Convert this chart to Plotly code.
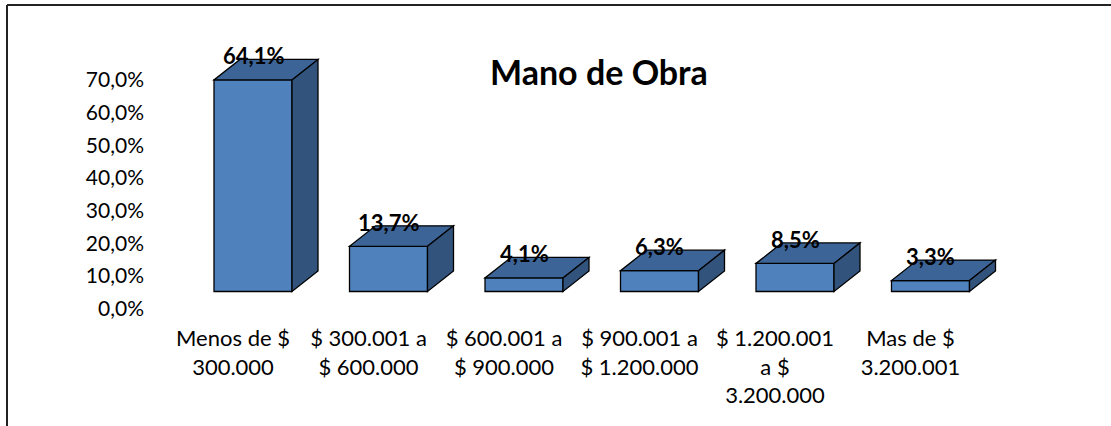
import plotly.graph_objects as go

# ---------------- data ----------------
categories = [
    "Menos de $<br>300.000",
    "$ 300.001 a<br>$ 600.000",
    "$ 600.001 a<br>$ 900.000",
    "$ 900.001 a<br>$ 1.200.000",
    "$ 1.200.001<br>a $<br>3.200.000",
    "Mas de $<br>3.200.001",
]
values = [64.1, 13.7, 4.1, 6.3, 8.5, 3.3]
tick_values = [0, 10, 20, 30, 40, 50, 60, 70]
tick_labels = ["0,0%", "10,0%", "20,0%", "30,0%", "40,0%", "50,0%", "60,0%", "70,0%"]
title_text = "Mano de Obra"

# ---------------- layout geometry (pixels) ----------------
W, H = 1111, 426
L, R, T, B = 148, 1090, 40, 318
cat_px = 135.5          # pixels per category
label0_px = 233         # x of first category label
bar_shift_px = 20       # front faces sit right of the labels
y0_lab_px, y_lab_scale = 308.5, 3.267   # tick label axis: 0% pixel, px per %
y0_bar_px, y_bar_scale = 291.5, 3.30    # bar axis: 0% pixel, px per %
depth_dx_px, depth_dy_px = 26, 20.5
bar_w_px = 78

xa = -(label0_px - L) / cat_px
xb = (R - label0_px) / cat_px
shift = bar_shift_px / cat_px
ya = -(B - y0_lab_px) / y_lab_scale
yb = (y0_lab_px - T) / y_lab_scale
y2a = -(B - y0_bar_px) / y_bar_scale
y2b = (y0_bar_px - T) / y_bar_scale

dx = depth_dx_px / cat_px
dy = depth_dy_px / y_bar_scale
bw = bar_w_px / cat_px

FRONT = "#4F81BD"
TOP = "#3C6496"
SIDE = "#32537C"
FONT = "Lato"

fig = go.Figure()

# invisible trace to establish the category axis
fig.add_trace(go.Scatter(x=categories, y=[0] * len(categories), mode="markers",
                         marker=dict(opacity=0), hoverinfo="skip", showlegend=False,
                         xaxis="x", yaxis="y"))

xs = list(range(len(values)))
fig.add_trace(go.Bar(x=xs, y=values, width=bw, marker=dict(color=FRONT, line=dict(color="black", width=1.3)),
                     xaxis="x2", yaxis="y2", showlegend=False, hoverinfo="skip"))

shapes = []
for i, v in zip(xs, values):
    xl, xr = i - bw / 2, i + bw / 2
    top_path = f"M {xl},{v} L {xr},{v} L {xr+dx},{v+dy} L {xl+dx},{v+dy} Z"
    side_path = f"M {xr},0 L {xr},{v} L {xr+dx},{v+dy} L {xr+dx},{dy} Z"
    for p, c in ((top_path, TOP), (side_path, SIDE)):
        shapes.append(dict(type="path", path=p, xref="x2", yref="y2", fillcolor=c,
                           line=dict(color="black", width=1.3), layer="above"))

# chart border (left + top)
def px_x(p):
    return (p - L) / (R - L)

def px_y(p):
    return (B - p) / (B - T)

shapes.append(dict(type="line", xref="paper", yref="paper", x0=px_x(7), x1=px_x(7),
                   y0=px_y(5), y1=px_y(H + 5), line=dict(color="#222222", width=2)))
shapes.append(dict(type="line", xref="paper", yref="paper", x0=px_x(7), x1=px_x(W + 5),
                   y0=px_y(5), y1=px_y(5), line=dict(color="#222222", width=2)))

annotations = []
for i, v in zip(xs, values):
    annotations.append(dict(x=i, y=v, xref="x2", yref="y2", yshift=24,
                            text="<b>" + f"{v:.1f}".replace(".", ",") + "%</b>",
                            showarrow=False, font=dict(family=FONT, size=22, color="black"),
                            xanchor="center", yanchor="middle"))
annotations.append(dict(x=px_x(599), y=px_y(72), xref="paper", yref="paper",
                        text="<b>" + title_text + "</b>", showarrow=False,
                        font=dict(family=FONT, size=34, color="black"),
                        xanchor="center", yanchor="middle"))

fig.update_layout(
    width=W, height=H,
    margin=dict(l=L, r=W - R, t=T, b=H - B, autoexpand=False),
    paper_bgcolor="white", plot_bgcolor="rgba(0,0,0,0)",
    font=dict(family=FONT, size=21, color="black"),
    xaxis=dict(type="category", range=[xa, xb], showgrid=False, zeroline=False,
               showline=False, ticks="", tickfont=dict(size=22), ticklabelstandoff=5,
               fixedrange=True),
    yaxis=dict(range=[ya, yb], tickvals=tick_values, ticktext=tick_labels, showgrid=False,
               zeroline=False, showline=False, ticks="", tickfont=dict(size=21),
               ticklabelstandoff=3, fixedrange=True),
    xaxis2=dict(range=[xa - shift, xb - shift], overlaying="x", visible=False, fixedrange=True),
    yaxis2=dict(range=[y2a, y2b], overlaying="y", visible=False, fixedrange=True),
    shapes=shapes,
    annotations=annotations,
    showlegend=False,
)

fig.write_html("out.html", config={"displayModeBar": False})

# remove the default page margin so the figure sits at the window origin
with open("out.html", "r", encoding="utf-8") as f:
    html = f.read()
html = html.replace("<head>", "<head><style>html,body{margin:0;padding:0;overflow:hidden;}</style>", 1)
with open("out.html", "w", encoding="utf-8") as f:
    f.write(html)
